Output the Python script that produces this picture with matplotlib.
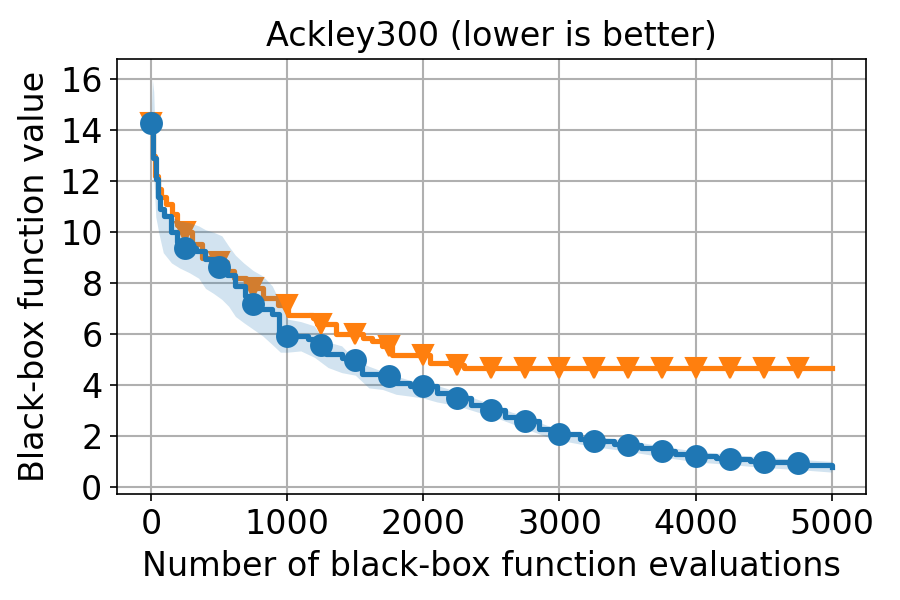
import numpy as np
import matplotlib
matplotlib.use('Agg')
import matplotlib.pyplot as plt

# step curves (evaluation, best value so far)
blue_x = [0, 18, 35, 50, 64, 96, 145, 193, 235, 330, 395, 470, 560, 615, 690, 730,
          800, 890, 940, 1150, 1240, 1284, 1400, 1480, 1550, 1700, 1800, 1900, 2100,
          2200, 2350, 2450, 2600, 2700, 2850, 2950, 3150, 3230, 3400, 3480, 3600, 3720,
          3850, 3980, 4150, 4250, 4400, 4500, 4700, 4800, 5000]
blue_y = [14.27, 12.9, 12.1, 11.4, 10.9, 10.64, 10.0, 9.6, 9.4, 9.27, 8.94, 8.63, 8.33,
          7.9, 7.5, 7.2, 6.98, 6.78, 5.94, 5.8, 5.57, 5.22, 5.06, 5.0, 4.43, 4.35, 4.1,
          3.97, 3.7, 3.5, 3.25, 3.05, 2.75, 2.6, 2.3, 2.08, 1.9, 1.82, 1.7, 1.65, 1.55,
          1.42, 1.32, 1.23, 1.15, 1.12, 1.04, 1.0, 0.94, 0.88, 0.81]

orange_x = [0, 15, 30, 49, 70, 108, 157, 194, 230, 300, 377, 440, 560, 610, 700, 750,
            820, 930, 1005, 1186, 1220, 1358, 1560, 1620, 1700, 1770, 2050, 2200, 2300,
            5000]
orange_y = [14.27, 13.0, 12.2, 11.7, 11.4, 11.1, 10.7, 10.3, 10.0, 9.53, 9.0, 8.82,
            8.5, 8.22, 8.0, 7.83, 7.44, 7.15, 6.76, 6.65, 6.4, 6.0, 5.85, 5.74, 5.54,
            5.18, 4.89, 4.78, 4.69, 4.69]

# marker positions every 250 evaluations
mark_x = [0, 250, 500, 750, 1000, 1250, 1500, 1750, 2000, 2250, 2500, 2750, 3000,
          3250, 3500, 3750, 4000, 4250, 4500, 4750]
blue_mark = [14.27, 9.4, 8.63, 7.2, 5.94, 5.57, 5.0, 4.35, 3.97, 3.5, 3.05, 2.6, 2.08,
             1.82, 1.65, 1.42, 1.23, 1.12, 1.0, 0.94]
orange_mark = [14.27, 10.0, 8.82, 7.83, 7.15, 6.4, 6.0, 5.54, 5.18, 4.78, 4.69, 4.69,
               4.69, 4.69, 4.69, 4.69, 4.69, 4.69, 4.69, 4.69]

# shaded spread around the blue curve
band_x = [0, 10, 20, 35, 60, 90, 150, 210, 280, 350, 400, 460, 520, 570, 620, 680, 750,
          820, 890, 950, 1000, 1100, 1200, 1250, 1300, 1400, 1500, 1600, 1700, 1800,
          1900, 2000, 2100, 2250, 2400, 2500, 2650, 2750, 2900, 3000, 3250, 3500, 3750,
          4000, 4250, 4500, 4750, 5000]
band_hi = [14.5, 16.0, 15.5, 12.8, 11.4, 10.9, 10.6, 10.45, 10.38, 10.25, 10.1, 10.0,
           9.86, 9.46, 9.1, 8.8, 8.5, 8.29, 7.9, 7.24, 6.6, 6.5, 6.33, 5.9, 5.7, 5.55,
           5.0, 4.75, 4.55, 4.37, 4.2, 4.15, 4.0, 3.75, 3.45, 3.25, 2.95, 2.8, 2.45,
           2.27, 2.0, 1.85, 1.62, 1.42, 1.3, 1.18, 1.1, 1.02]
band_lo = [14.0, 13.0, 12.2, 10.6, 9.9, 9.2, 8.8, 8.6, 8.42, 8.2, 7.8, 7.6, 7.37, 7.1,
           6.7, 6.46, 6.2, 5.94, 5.6, 5.3, 5.3, 5.35, 5.1, 4.9, 4.7, 4.5, 4.4, 3.9, 3.84,
           3.65, 3.58, 3.5, 3.35, 3.2, 2.95, 2.8, 2.5, 2.3, 2.0, 1.85, 1.6, 1.42, 1.2,
           1.0, 0.9, 0.78, 0.7, 0.6]

blue = '#1f77b4'
orange = '#ff7f0e'

fig = plt.figure(figsize=(6, 4), dpi=150)
ax = fig.add_axes([0.13, 0.177, 0.832, 0.725])

ax.plot(orange_x, orange_y, drawstyle='steps-post', color=orange, lw=2.5, zorder=2)
ax.plot(mark_x, orange_mark, 'v', color=orange, ms=10, zorder=2)
ax.fill_between(band_x, band_lo, band_hi, color=blue, alpha=0.2, lw=0, zorder=3)
ax.plot(blue_x, blue_y, drawstyle='steps-post', color=blue, lw=2.5, zorder=4)
ax.plot(mark_x, blue_mark, 'o', color=blue, ms=10, zorder=4)

ax.set_xticks([0, 1000, 2000, 3000, 4000, 5000])
ax.set_yticks([0, 2, 4, 6, 8, 10, 12, 14, 16])
ax.set_xlim(-250, 5250)
ax.set_ylim(-0.25, 16.8)
ax.grid(True, color='#b0b0b0', lw=1.0)
ax.set_axisbelow(True)
ax.tick_params(labelsize=16)
ax.set_xlabel('Number of black-box function evaluations', fontsize=16)
ax.set_ylabel('Black-box function value', fontsize=16)
ax.set_title('Ackley300 (lower is better)', fontsize=16)

fig.savefig('out.png', dpi=150)
